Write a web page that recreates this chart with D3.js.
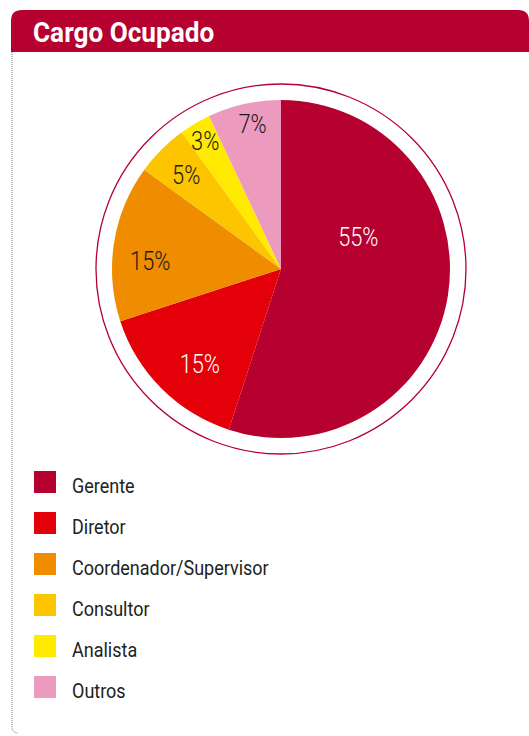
<!DOCTYPE html>
<html>
<head>
<meta charset="utf-8">
<script src="https://cdn.jsdelivr.net/npm/d3@7"></script>
<style>
  body { margin: 0; background: #fff; }
  svg { display: block; }
</style>
</head>
<body>
<svg id="canvas" width="529" height="736"></svg>
<script>
// data
let categories = ['Gerente', 'Diretor', 'Coordenador/Supervisor', 'Consultor', 'Analista', 'Outros']
let values = [55, 15, 15, 5, 3, 7]
let colors = ['#b50030', '#e30008', '#f08c00', '#fcc500', '#ffea00', '#ed9abf']
let labelColors = ['#fff', '#fff', '#1a1a1a', '#1a1a1a', '#1a1a1a', '#1a1a1a']

let title = 'Cargo Ocupado'

let canvas = d3.select('#canvas')
let red = '#b50030'
let font = 'Roboto, "Liberation Sans", sans-serif'

// frame: dotted left edge + header band
canvas.append('path')
      .attr('d', 'M12,52 L12,726 Q12,733 18,733')
      .attr('fill', 'none')
      .attr('stroke', '#777')
      .attr('stroke-width', 1)
      .attr('stroke-dasharray', '1,1')

canvas.append('path')
      .attr('d', 'M11,52 L11,21 Q11,10 22,10 L518,10 Q529,10 529,21 L529,52 Z')
      .attr('fill', red)

canvas.append('text')
      .text(title)
      .attr('transform', 'translate(33,42) scale(0.97,1)')
      .attr('fill', '#fff')
      .style('font-family', font)
      .style('font-weight', 'bold')
      .style('font-size', '27px')

// pie
let cx = 281, cy = 269, radius = 169

let pie = d3.pie().sort(null).value((d) => d.value)
let arcs = pie(categories.map((c, i) => ({ name: c, value: values[i], i: i })))

let arc = d3.arc().innerRadius(0).outerRadius(radius)

let g = canvas.append('g').attr('transform', 'translate(' + cx + ',' + cy + ')')

g.append('circle')
  .attr('r', 185)
  .attr('fill', 'none')
  .attr('stroke', red)
  .attr('stroke-width', 1.3)

g.selectAll('path.slice')
  .data(arcs)
  .enter()
  .append('path')
  .attr('class', 'slice')
  .attr('d', arc)
  .attr('fill', (d) => colors[d.data.i])

// label placement: radius and angle shift (degrees) per slice
let labelPlace = [[84, -32], [125, -4.5], [131, -5.5], [134, 0], [149, 0], [148, 1.5]]

let labelXY = (d) => {
  let p = labelPlace[d.data.i]
  let a = (d.startAngle + d.endAngle) / 2 + p[1] * Math.PI / 180
  return [p[0] * Math.sin(a), -p[0] * Math.cos(a)]
}

g.selectAll('text.pct')
  .data(arcs)
  .enter()
  .append('text')
  .attr('class', 'pct')
  .text((d) => d.data.value + '%')
  .attr('transform', (d) => {
    let xy = labelXY(d)
    return 'translate(' + xy[0] + ',' + xy[1] + ') scale(0.84,1)'
  })
  .attr('dy', '0.36em')
  .attr('text-anchor', 'middle')
  .attr('fill', (d) => labelColors[d.data.i])
  .style('font-family', font)
  .style('font-weight', 300)
  .style('font-size', '26px')

// legend
let legendY = d3.scaleBand()
                .domain(categories)
                .range([471, 717])

let legend = canvas.selectAll('g.legend')
      .data(categories)
      .enter()
      .append('g')
      .attr('class', 'legend')
      .attr('transform', (c) => 'translate(34,' + legendY(c) + ')')

legend.append('rect')
      .attr('width', 22)
      .attr('height', 22)
      .attr('fill', (c, i) => colors[i])

legend.append('text')
      .text((c) => c)
      .attr('transform', 'translate(38,21.5) scale(0.9,1)')
      .attr('fill', '#222')
      .style('font-family', font)
      .style('font-size', '20px')
</script>
</body>
</html>
